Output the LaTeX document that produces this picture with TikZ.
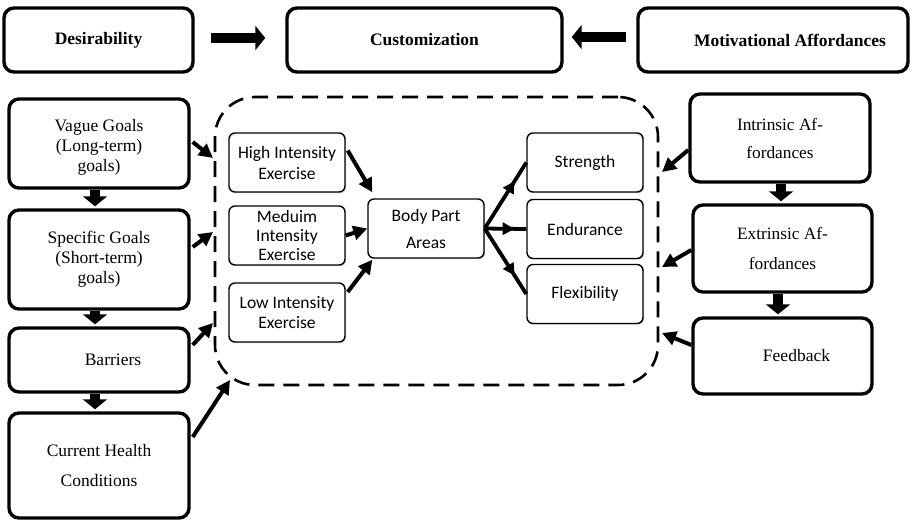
\documentclass[tikz,border=0pt]{standalone}
\usepackage{fontspec}
\setmainfont{Liberation Serif}
\newfontfamily\calfont{Carlito}
\usetikzlibrary{arrows.meta,decorations.markings,shadows}
\begin{document}
\begin{tikzpicture}[x=1pt,y=-1pt,
 bigbox/.style={draw, line width=3.4pt, rounded corners=10pt, align=center, inner sep=0pt, fill=white, font=\fontsize{17.5}{20}\selectfont},
 smallbox/.style={draw, line width=1.4pt, rounded corners=6pt, align=center, inner sep=0pt, fill=white,
   minimum width=116pt, minimum height=59pt, font=\calfont\fontsize{17.5}{20}\selectfont,
   drop shadow={shadow xshift=1.2pt, shadow yshift=-1.2pt, opacity=0.35}},
 blockarrow/.style={line width=10pt, -{Triangle[length=10pt,width=24pt]}},
 thinarrow/.style={line width=4pt, -{Triangle[length=14pt,width=14pt]}},
 midarrow/.style={line width=3.8pt, postaction={decorate},
   decoration={markings, mark=at position 0.72 with {\arrow{Triangle[length=12pt,width=12pt]}}}},
 regionbox/.style={draw, line width=2.6pt, dash pattern=on 16pt off 9pt, rounded corners=40pt}
]
\useasboundingbox (0,0) rectangle (912,520);

% dashed region
\node[regionbox, minimum width=443pt, minimum height=288pt] (reg) at (436.5,241) {};

% top row
\node[bigbox, minimum width=189pt, minimum height=64pt] (des) at (98.5,40) {\textbf{Desirability}};
\node[bigbox, minimum width=275pt, minimum height=64pt] (cus) at (424.5,40) {\textbf{Customization}};
\node[bigbox, minimum width=270pt, minimum height=64pt] (mot) at (773,40) {\hspace*{34pt}\textbf{Motivational Affordances}};

% left column
\node[bigbox, minimum width=180pt, minimum height=89pt] (vague) at (99,143.5) {\rule{0pt}{20pt}Vague Goals\\(Long-term)\\goals)};
\node[bigbox, minimum width=180pt, minimum height=99pt] (spec) at (99,259.5) {Specific Goals\\(Short-term)\\goals)};
\node[bigbox, minimum width=180pt, minimum height=64pt] (barr) at (99,360) {\hspace*{28pt}Barriers};
\node[bigbox, minimum width=180pt, minimum height=105pt, font=\fontsize{17.5}{30}\selectfont] (curr) at (99,465.5) {Current Health\\Conditions};

% right column
\node[bigbox, minimum width=180pt, minimum height=88pt, font=\fontsize{17.3}{28}\selectfont] (intr) at (780,138) {Intrinsic Af-\\fordances};
\node[bigbox, minimum width=179pt, minimum height=87pt, font=\fontsize{17.3}{30}\selectfont] (extr) at (782.5,248.5) {Extrinsic Af-\\fordances};
\node[bigbox, minimum width=179pt, minimum height=76pt] (feed) at (782.5,356) {\hspace*{28pt}Feedback};

% inner boxes
\node[smallbox, font=\calfont\fontsize{17.5}{21}\selectfont] (high) at (287,162.5) {High Intensity\\Exercise};
\node[smallbox, font=\calfont\fontsize{17.5}{19}\selectfont] (med) at (287,235.5) {Meduim\\Intensity\\Exercise};
\node[smallbox, font=\calfont\fontsize{17.5}{19.5}\selectfont] (low) at (287,312.5) {Low Intensity\\Exercise};
\node[smallbox, font=\calfont\fontsize{17.5}{27}\selectfont] (body) at (426,228.5) {Body Part\\Areas};
\node[smallbox] (str) at (585,162.5) {Strength};
\node[smallbox] (endu) at (585,229) {Endurance};
\node[smallbox] (flex) at (585,294) {Flexibility};

% arrow end coordinates on the region
\coordinate (e1) at (213,158);
\coordinate (e2) at (213,232);
\coordinate (e3) at (213,323);
\coordinate (e4) at (230,380);
\coordinate (f1) at (662,172);
\coordinate (f2) at (662,267);
\coordinate (f3) at (662,333);

% top block arrows
\draw[blockarrow] ([shift={(16,-2)}]des.east) -- ([shift={(-20,-2)}]cus.west);
\draw[blockarrow] ([shift={(-10,-3)}]mot.west) -- ([shift={(8,-3)}]cus.east);

% vertical block arrows
\draw[blockarrow] ([shift={(-4,0)}]vague.south) -- ([shift={(-4,-2)}]spec.north);
\draw[blockarrow] ([shift={(-4,0)}]spec.south) -- ([shift={(-4,-2)}]barr.north);
\draw[blockarrow] ([shift={(-4,0)}]barr.south) -- ([shift={(-4,-2)}]curr.north);
\draw[blockarrow] ([shift={(1,0)}]intr.south) -- ([shift={(-1.5,-2)}]extr.north);
\draw[blockarrow] ([shift={(-4.5,0)}]extr.south) -- ([shift={(-4.5,-2)}]feed.north);

% left arrows into region
\draw[thinarrow] ([shift={(2,-1.5)}]vague.east) -- (e1);
\draw[thinarrow] ([shift={(2,-12.5)}]spec.east) -- (e2);
\draw[thinarrow] ([shift={(2,-15)}]barr.east) -- (e3);
\draw[thinarrow] ([shift={(2,-28.5)}]curr.east) -- (e4);

% right arrows into region
\draw[thinarrow] ([shift={(0,12)}]intr.west) -- (f1);
\draw[thinarrow] ([shift={(0,1.5)}]extr.west) -- (f2);
\draw[thinarrow] ([shift={(0,-11)}]feed.west) -- (f3);

% inner arrows
\draw[thinarrow] ([shift={(2,-12)}]high.east) -- ([shift={(5,-6)}]body.north west);
\draw[thinarrow] (med.east) -- (body.west);
\draw[thinarrow] ([shift={(2,-20.5)}]low.east) -- ([shift={(5,1)}]body.south west);

\draw[midarrow] (body.east) -- (str.west);
\draw[midarrow] (body.east) -- (endu.west);
\draw[midarrow] (body.east) -- (flex.west);
\end{tikzpicture}
\end{document}
